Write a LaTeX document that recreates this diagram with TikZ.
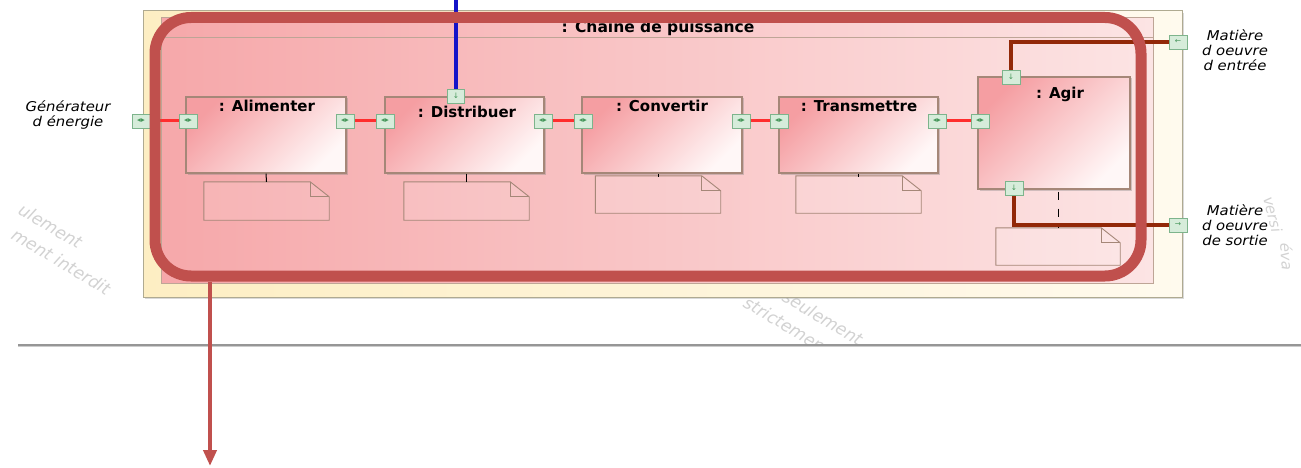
\documentclass[tikz,border=0pt]{standalone}
\usepackage{fontspec}
\setmainfont{DejaVu Sans}
\newfontfamily\lblfont[FakeStretch=1.1]{DejaVu Sans}
\usetikzlibrary{arrows.meta,shadows}
\definecolor{redband}{RGB}{192,80,77}
\definecolor{pinkL}{RGB}{246,168,170}
\definecolor{pinkR}{RGB}{252,228,228}
\definecolor{boxA}{RGB}{245,158,162}
\definecolor{boxB}{RGB}{255,247,247}
\definecolor{boxline}{RGB}{165,135,120}
\definecolor{noteline}{RGB}{165,135,120}
\definecolor{innerline}{RGB}{190,165,150}
\definecolor{yelL}{RGB}{253,238,195}
\definecolor{yelR}{RGB}{255,250,238}
\definecolor{frameline}{RGB}{175,170,145}
\definecolor{portfill}{RGB}{214,236,218}
\definecolor{portline}{RGB}{125,180,140}
\definecolor{porttxt}{RGB}{70,150,90}
\definecolor{conn}{RGB}{255,45,45}
\definecolor{brownc}{RGB}{146,40,8}
\definecolor{bluec}{RGB}{20,20,200}
\definecolor{wm}{RGB}{210,210,210}
\definecolor{sepline}{RGB}{150,150,150}
\tikzset{
 blockbox/.style={draw=boxline, line width=1.2pt, top color=boxA, bottom color=boxB, shading angle=45, inner sep=0pt,
   drop shadow={shadow xshift=1.5pt,shadow yshift=-1.5pt,opacity=0.35}},
 blocktitle/.style={font=\bfseries\fontsize{15}{16}\selectfont, inner sep=0pt},
 portbox/.style={draw=portline, fill=portfill, line width=0.8pt, minimum width=18pt, minimum height=14pt, inner sep=0pt,
   text=porttxt, font=\fontsize{7.5}{7.5}\selectfont},
 notebox/.style={minimum width=125pt, minimum height=38pt, inner sep=0pt},
 noteshape/.style={draw=noteline, line width=0.9pt, fill=white, fill opacity=0.12},
 flowline/.style={conn, line width=3pt},
 matline/.style={brownc, line width=4pt},
 lbl/.style={font=\lblfont\itshape\fontsize{13.5}{15}\selectfont, align=center, inner sep=0pt},
 wmark/.style={text=wm, font=\itshape\fontsize{17}{17}\selectfont, inner sep=0pt, anchor=base west, rotate=-31},
}
\newcommand\notefold[1]{%
  \draw[noteshape] (#1.north west) -- ([xshift=-19pt]#1.north east) -- ([yshift=-15pt]#1.north east)
     -- (#1.south east) -- (#1.south west) -- cycle;
  \draw[noteline, line width=0.9pt] ([xshift=-19pt]#1.north east) -- ([xshift=-19pt,yshift=-15pt]#1.north east)
     -- ([yshift=-15pt]#1.north east);}
\begin{document}
\begin{tikzpicture}[x=1pt,y=-1pt]
\useasboundingbox (0,0) rectangle (1301,468);
\clip (0,0) rectangle (1301,468);
% watermarks
\node[wmark] (w1) at (17,213) {ulement};
\node[wmark] (w2) at (10,238) {ment interdit};
\begin{scope}
\clip (0,0) rectangle (1301,344);
\node[wmark] (w3) at (781,300) {seulement};
\node[wmark] (w4) at (742,306) {strictement};
\end{scope}
\node[wmark, rotate=-45, font=\itshape\fontsize{15}{15}\selectfont] (w5) at (1263,198) {versi};
\node[wmark, rotate=-55, font=\itshape\fontsize{15}{15}\selectfont] (w6) at (1280,243) {éva};
% outer frame
\path[draw=frameline, line width=1pt, left color=yelL, right color=yelR,
  drop shadow={shadow xshift=2pt,shadow yshift=-2pt,opacity=0.3}] (143,11) rectangle (1182,297);
% inner frame
\path[draw=innerline, line width=1pt, left color=pinkL, right color=pinkR] (161,18) rectangle (1153,283);
\coordinate (tl1) at (161,38);
\coordinate (tl2) at (1153,38);
\draw[innerline, line width=1pt] (tl1) -- (tl2);
\node[font=\bfseries\fontsize{15.5}{16}\selectfont, inner sep=0pt] (title) at (658,28) {: Chaine de puissance};
% blocks
\node[blockbox, minimum width=160pt, minimum height=76pt] (alim) at (266,135) {};
\node[blockbox, minimum width=159pt, minimum height=76pt] (dist) at (464.5,135) {};
\node[blockbox, minimum width=160pt, minimum height=76pt] (conv) at (662,135) {};
\node[blockbox, minimum width=159pt, minimum height=76pt] (tran) at (858.5,135) {};
\node[blockbox, minimum width=152pt, minimum height=112pt] (agir) at (1054,133) {};
\node[blocktitle] (talim) at (267,106) {: Alimenter};
\node[blocktitle] (tdist) at (467,112) {: Distribuer};
\node[blocktitle] (tconv) at (662,106) {: Convertir};
\node[blocktitle] (ttran) at (859,106) {: Transmettre};
\node[blocktitle] (tagir) at (1060,94) {: Agir};
% notes
\node[notebox] (nA) at (266.5,201) {};
\node[notebox] (nB) at (466.5,201) {};
\node[notebox, minimum height=37pt] (nC) at (658,194.5) {};
\node[notebox, minimum height=37pt] (nD) at (858.5,194.5) {};
\node[notebox, minimum height=37pt, minimum width=124pt] (nE) at (1058,246.5) {};
\notefold{nA}\notefold{nB}\notefold{nC}\notefold{nD}\notefold{nE}
\draw[black, line width=1pt] (alim.south) -- (nA.north);
\draw[black, line width=1pt] (nB.north |- dist.south) -- (nB.north);
\draw[black, line width=1pt] (nC.north |- conv.south) -- ++(0,3);
\draw[black, line width=1pt] (nD.north |- tran.south) -- ++(0,3);
\draw[black, line width=1pt, dash pattern=on 8pt off 9pt, dash phase=-2pt] (nE.north |- agir.south) -- (nE.north);
% port positions
\coordinate (pg) at (141,121);
\coordinate (pa1) at (188,121);
\coordinate (pa2) at (345,121);
\coordinate (pd1) at (385,121);
\coordinate (pdt) at (456,96);
\coordinate (pd2) at (543,121);
\coordinate (pc1) at (583,121);
\coordinate (pc2) at (741,121);
\coordinate (pt1) at (779,121);
\coordinate (pt2) at (937,121);
\coordinate (pag1) at (980,121);
\coordinate (pagt) at (1011,77);
\coordinate (pagb) at (1014,188);
\coordinate (pin) at (1178,42);
\coordinate (pout) at (1178,225);
% connectors
\draw[flowline] (pg) -- (pa1);
\draw[flowline] (pa2) -- (pd1);
\draw[flowline] (pd2) -- (pc1);
\draw[flowline] (pc2) -- (pt1);
\draw[flowline] (pt2) -- (pag1);
\coordinate (btop) at (456,-2);
\draw[bluec, line width=4pt] (btop) -- (pdt);
\draw[matline] (pin) -| (pagt);
\draw[matline] (pagb) |- (pout);
% ports
\node[portbox] (Pg) at (pg) {◂▸};
\node[portbox] (Pa1) at (pa1) {◂▸};
\node[portbox] (Pa2) at (pa2) {◂▸};
\node[portbox] (Pd1) at (pd1) {◂▸};
\node[portbox, minimum width=17pt] (Pdt) at (pdt) {↓};
\node[portbox] (Pd2) at (pd2) {◂▸};
\node[portbox] (Pc1) at (pc1) {◂▸};
\node[portbox] (Pc2) at (pc2) {◂▸};
\node[portbox] (Pt1) at (pt1) {◂▸};
\node[portbox] (Pt2) at (pt2) {◂▸};
\node[portbox] (Pag1) at (pag1) {◂▸};
\node[portbox] (Pagt) at (pagt) {↓};
\node[portbox] (Pagb) at (pagb) {↓};
\node[portbox] (Pin) at (pin) {←};
\node[portbox] (Pout) at (pout) {→};
% labels
\node[lbl] (gen) at (68,115.5) {Générateur\\d énergie};
\node[lbl] (men) at (1235,50) {Matière\\d oeuvre\\d entrée};
\node[lbl] (mso) at (1235,225) {Matière\\d oeuvre\\de sortie};
% separator line
\coordinate (gl1) at (18,345);
\coordinate (gl2) at (1301,345);
\draw[black!20, line width=1pt] ([yshift=-1.5pt]gl1) -- ([yshift=-1.5pt]gl2);
\draw[sepline, line width=1.3pt] (gl1) -- (gl2);
% highlight
\node[draw=redband, line width=11pt, rounded corners=36pt, minimum width=986pt, minimum height=258.5pt, inner sep=0pt] (hl) at (648,146.75) {};
\coordinate (aend) at (210,466);
\draw[redband, line width=4.5pt, -{Triangle[length=16pt,width=13pt]}] (aend |- hl.south) -- (aend);
\end{tikzpicture}
\end{document}
